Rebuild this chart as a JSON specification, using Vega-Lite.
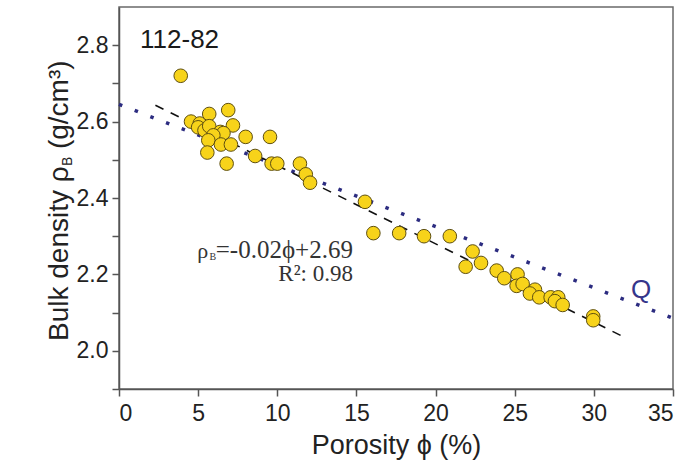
{
  "$schema": "https://vega.github.io/schema/vega-lite/v6.json",
  "width": 554,
  "height": 382,
  "autosize": {"type": "none"},
  "padding": {"left": 119, "top": 7, "right": 20, "bottom": 74},
  "background": "white",
  "config": {
    "view": {"stroke": "#6a6a6a", "strokeWidth": 1.5},
    "font": "Liberation Sans",
    "axis": {
      "grid": false,
      "domainColor": "#555555",
      "domainWidth": 1.5,
      "tickColor": "#555555",
      "tickWidth": 1.5,
      "tickSize": 7,
      "labelFont": "Liberation Sans",
      "labelFontSize": 23,
      "labelColor": "#222222",
      "titleFont": "Liberation Sans",
      "titleFontWeight": "normal",
      "titleColor": "#222222"
    }
  },
  "datasets": {
    "points": [
      {"phi": 3.9, "rho": 2.72}, {"phi": 4.55, "rho": 2.60}, {"phi": 5.1, "rho": 2.595},
      {"phi": 5.0, "rho": 2.585}, {"phi": 5.4, "rho": 2.577}, {"phi": 5.7, "rho": 2.62},
      {"phi": 6.9, "rho": 2.63}, {"phi": 7.2, "rho": 2.59}, {"phi": 5.7, "rho": 2.588},
      {"phi": 6.4, "rho": 2.573}, {"phi": 6.6, "rho": 2.57}, {"phi": 5.96, "rho": 2.564},
      {"phi": 5.64, "rho": 2.551}, {"phi": 8.0, "rho": 2.56}, {"phi": 9.54, "rho": 2.56},
      {"phi": 6.44, "rho": 2.54}, {"phi": 7.07, "rho": 2.54}, {"phi": 5.58, "rho": 2.519},
      {"phi": 8.6, "rho": 2.51}, {"phi": 6.8, "rho": 2.49}, {"phi": 9.64, "rho": 2.49},
      {"phi": 10.0, "rho": 2.49}, {"phi": 11.43, "rho": 2.49}, {"phi": 11.8, "rho": 2.462},
      {"phi": 12.07, "rho": 2.44}, {"phi": 15.54, "rho": 2.39}, {"phi": 16.07, "rho": 2.308},
      {"phi": 17.7, "rho": 2.308}, {"phi": 19.27, "rho": 2.30}, {"phi": 20.9, "rho": 2.30},
      {"phi": 22.34, "rho": 2.26}, {"phi": 21.9, "rho": 2.22}, {"phi": 22.87, "rho": 2.23},
      {"phi": 23.86, "rho": 2.21}, {"phi": 24.34, "rho": 2.19}, {"phi": 25.18, "rho": 2.20},
      {"phi": 25.12, "rho": 2.17}, {"phi": 25.5, "rho": 2.175}, {"phi": 26.28, "rho": 2.16},
      {"phi": 25.96, "rho": 2.15}, {"phi": 26.55, "rho": 2.14}, {"phi": 27.27, "rho": 2.14},
      {"phi": 27.75, "rho": 2.14}, {"phi": 27.54, "rho": 2.13}, {"phi": 28.03, "rho": 2.12},
      {"phi": 29.96, "rho": 2.09}, {"phi": 29.96, "rho": 2.08}
    ],
    "fit": [
      {"phi": 2.3, "rho": 2.643},
      {"phi": 32.0, "rho": 2.034}
    ],
    "quartz": [
      {"phi": 0, "rho": 2.645},
      {"phi": 35, "rho": 2.085}
    ],
    "labels": [
      {"kind": "title", "phi": 1.33, "rho": 2.792, "text": "112-82"},
      {"kind": "eq", "phi": 4.95, "rho": 2.244, "text": "ρ"},
      {"kind": "eqsub", "phi": 5.72, "rho": 2.237, "text": "B"},
      {"kind": "eqr", "phi": 14.78, "rho": 2.244, "text": "=-0.02ϕ+2.69"},
      {"kind": "eqr2", "phi": 14.78, "rho": 2.184, "text": "R²: 0.98"},
      {"kind": "q", "phi": 32.34, "rho": 2.138, "text": "Q"},
      {"kind": "ytitle_end", "phi": -3.22, "rho": 2.483, "text": "Bulk density ρ"},
      {"kind": "ysub", "phi": -2.97, "rho": 2.484, "text": "B"},
      {"kind": "ytitle_start", "phi": -3.22, "rho": 2.528, "text": "(g/cm³)"}
    ]
  },
  "encoding": {
    "x": {
      "field": "phi", "type": "quantitative",
      "scale": {"domain": [0, 35], "nice": false, "zero": false},
      "axis": {
        "values": [0, 5, 10, 15, 20, 25, 30, 35],
        "format": "d",
        "labelPadding": 6,
        "title": "Porosity ϕ (%)",
        "titleFontSize": 27,
        "titleBaseline": "alphabetic",
        "titleY": 64
      }
    },
    "y": {
      "field": "rho", "type": "quantitative",
      "scale": {"domain": [1.9, 2.9], "nice": false, "zero": false},
      "axis": {
        "values": [1.9, 2.0, 2.1, 2.2, 2.3, 2.4, 2.5, 2.6, 2.7, 2.8],
        "labelExpr": "round(datum.value*10) % 2 == 0 ? format(datum.value, '.1f') : ''",
        "labelPadding": 4,
        "title": null
      }
    }
  },
  "layer": [
    {
      "data": {"name": "quartz"},
      "mark": {"type": "line", "color": "#2c2c80", "strokeWidth": 3.5, "strokeDash": [3.5, 13.3], "strokeCap": "butt"},
      "encoding": {}
    },
    {
      "data": {"name": "fit"},
      "mark": {"type": "line", "color": "#111111", "strokeWidth": 1.6, "strokeDash": [9, 8]},
      "encoding": {}
    },
    {
      "data": {"name": "points"},
      "mark": {"type": "point", "shape": "circle", "filled": true, "fill": "#F7D31A", "stroke": "#5e4f10", "strokeWidth": 1, "size": 185, "opacity": 1},
      "encoding": {}
    },
    {
      "data": {"name": "labels"},
      "transform": [{"filter": "datum.kind == 'title'"}],
      "mark": {"type": "text", "align": "left", "baseline": "alphabetic", "font": "Liberation Sans", "fontSize": 26, "color": "#1a1a1a"},
      "encoding": {"text": {"field": "text"}}
    },
    {
      "data": {"name": "labels"},
      "transform": [{"filter": "datum.kind == 'eq'"}],
      "mark": {"type": "text", "align": "left", "baseline": "alphabetic", "font": "Liberation Serif", "fontSize": 22, "color": "#333333"},
      "encoding": {"text": {"field": "text"}}
    },
    {
      "data": {"name": "labels"},
      "transform": [{"filter": "datum.kind == 'eqsub'"}],
      "mark": {"type": "text", "align": "left", "baseline": "alphabetic", "font": "Liberation Serif", "fontSize": 10, "color": "#333333"},
      "encoding": {"text": {"field": "text"}}
    },
    {
      "data": {"name": "labels"},
      "transform": [{"filter": "datum.kind == 'eqr'"}],
      "mark": {"type": "text", "align": "right", "baseline": "alphabetic", "font": "Liberation Serif", "fontSize": 25, "color": "#333333"},
      "encoding": {"text": {"field": "text"}}
    },
    {
      "data": {"name": "labels"},
      "transform": [{"filter": "datum.kind == 'eqr2'"}],
      "mark": {"type": "text", "align": "right", "baseline": "alphabetic", "font": "Liberation Serif", "fontSize": 23, "color": "#333333"},
      "encoding": {"text": {"field": "text"}}
    },
    {
      "data": {"name": "labels"},
      "transform": [{"filter": "datum.kind == 'q'"}],
      "mark": {"type": "text", "align": "left", "baseline": "alphabetic", "font": "Liberation Sans", "fontSize": 26, "color": "#35358a"},
      "encoding": {"text": {"field": "text"}}
    },
    {
      "data": {"name": "labels"},
      "transform": [{"filter": "datum.kind == 'ytitle_end'"}],
      "mark": {"type": "text", "align": "right", "baseline": "alphabetic", "angle": 270, "font": "Liberation Sans", "fontSize": 28, "color": "#222222"},
      "encoding": {"text": {"field": "text"}}
    },
    {
      "data": {"name": "labels"},
      "transform": [{"filter": "datum.kind == 'ysub'"}],
      "mark": {"type": "text", "align": "left", "baseline": "alphabetic", "angle": 270, "font": "Liberation Sans", "fontSize": 14, "color": "#222222"},
      "encoding": {"text": {"field": "text"}}
    },
    {
      "data": {"name": "labels"},
      "transform": [{"filter": "datum.kind == 'ytitle_start'"}],
      "mark": {"type": "text", "align": "left", "baseline": "alphabetic", "angle": 270, "font": "Liberation Sans", "fontSize": 28, "color": "#222222"},
      "encoding": {"text": {"field": "text"}}
    }
  ]
}
